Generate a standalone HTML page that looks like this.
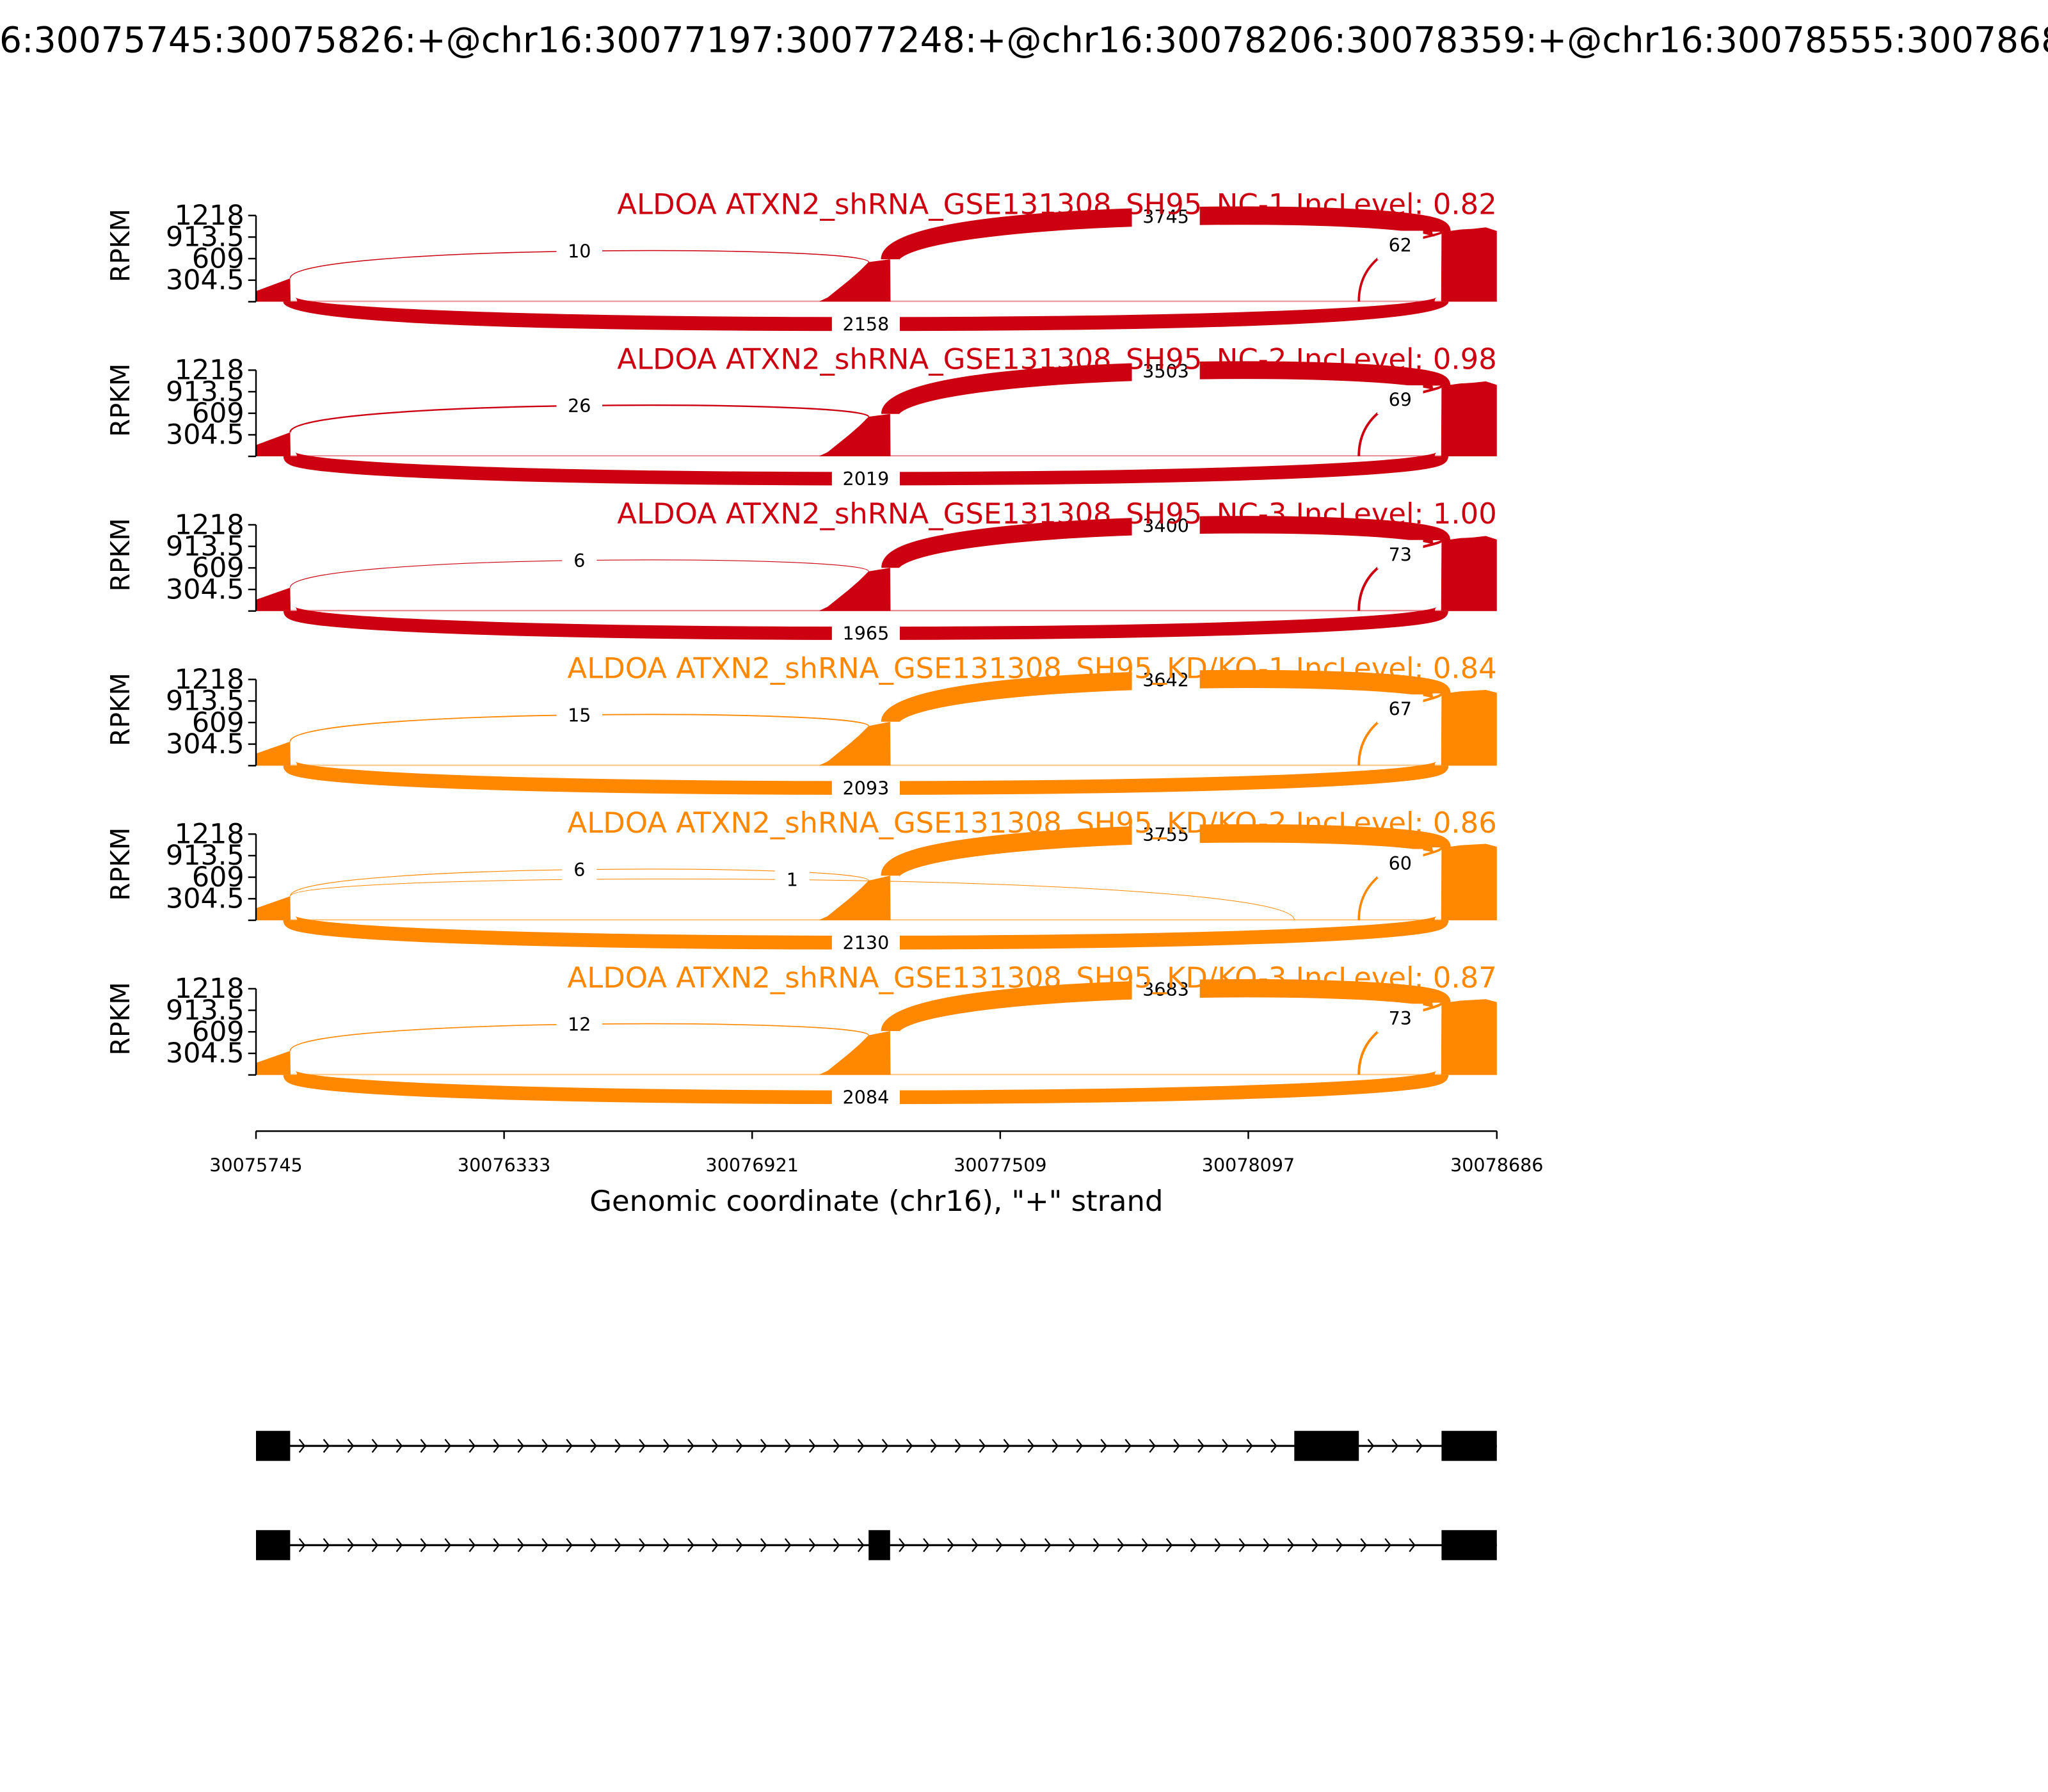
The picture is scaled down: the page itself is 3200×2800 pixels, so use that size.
<!DOCTYPE html>
<html><head><meta charset="utf-8"><style>
html,body{margin:0;padding:0;background:#fff;}
svg{display:block;font-family:"DejaVu Sans","Liberation Sans",sans-serif;}
</style></head><body>
<svg id="chart" width="3200" height="2800" viewBox="0 0 1568 1372" xmlns="http://www.w3.org/2000/svg">
<text x="784" y="40" font-size="27" text-anchor="middle">chr16:30075745:30075826:+@chr16:30077197:30077248:+@chr16:30078206:30078359:+@chr16:30078555:30078686:+</text>
<g id="panels"></g>
<g id="xaxis"></g>
<g id="genes"></g>
</svg>
<script>
// ---- data ----
const sampleNames = ["ALDOA ATXN2_shRNA_GSE131308_SH95_NC-1 IncLevel: 0.82","ALDOA ATXN2_shRNA_GSE131308_SH95_NC-2 IncLevel: 0.98","ALDOA ATXN2_shRNA_GSE131308_SH95_NC-3 IncLevel: 1.00","ALDOA ATXN2_shRNA_GSE131308_SH95_KD/KO-1 IncLevel: 0.84","ALDOA ATXN2_shRNA_GSE131308_SH95_KD/KO-2 IncLevel: 0.86","ALDOA ATXN2_shRNA_GSE131308_SH95_KD/KO-3 IncLevel: 0.87"];
const sampleGroup = [0,0,0,1,1,1];
const yTicks = [0,304.5,609,913.5,1218];
const yTickLabels = ["","304.5","609","913.5","1218"];
const xTicks = [30075745,30076333,30076921,30077509,30078097,30078686];
const covPos = [30075745,30075826,30075827,30077080,30077100,30077125,30077150,30077175,30077197,30077248,30077249,30078554,30078555,30078575,30078600,30078630,30078660,30078686];
const covP1 = [150,330,4,4,60,180,300,430,560,600,4,4,990,1000,1020,1030,1050,1000];
const covP2 = [160,340,4,4,60,180,300,430,560,600,4,4,1000,1010,1030,1040,1060,1010];
const covP3 = [160,330,4,4,60,180,300,430,560,610,4,4,1000,1010,1030,1040,1060,1010];
const covP4 = [170,340,4,4,60,180,300,430,560,620,4,4,1020,1030,1050,1060,1070,1030];
const covP5 = [170,340,4,4,60,180,300,430,560,630,4,4,1030,1040,1060,1070,1080,1040];
const covP6 = [170,340,4,4,60,180,300,430,560,620,4,4,1020,1030,1050,1060,1070,1030];
const coverages = [covP1,covP2,covP3,covP4,covP5,covP6];
const juncStart = [30075826,30075826,30077248,30078359,30075826];
const juncEnd = [30077197,30078555,30078555,30078555,30078206];
const juncAbove = [true,false,true,true,true];
const juncCtrl = [805,-420,1340,900,708];
const countsP1 = [10,2158,3745,62,0];
const countsP2 = [26,2019,3503,69,0];
const countsP3 = [6,1965,3400,73,0];
const countsP4 = [15,2093,3642,67,0];
const countsP5 = [6,2130,3755,60,1];
const countsP6 = [12,2084,3683,73,0];
const counts = [countsP1,countsP2,countsP3,countsP4,countsP5,countsP6];
const tx1Exons = [[30075745,30075826],[30078206,30078359],[30078555,30078686]];
const tx2Exons = [[30075745,30075826],[30077197,30077248],[30078555,30078686]];

// ---- layout ----
const NS="http://www.w3.org/2000/svg";
const X0=196,X1=1146,G0=30075745,G1=30078686,YMAX=1218,PH=66;
const colors=["#cc0011","#ff8800"];
const xs=g=>X0+(g-G0)*(X1-X0)/(G1-G0);
function mk(tag,attrs,parent){const e=document.createElementNS(NS,tag);for(const k in attrs)e.setAttribute(k,attrs[k]);parent.appendChild(e);return e;}
function covAt(cov,g){for(let i=0;i<covPos.length-1;i++){if(g>=covPos[i]&&g<=covPos[i+1]){const t=(g-covPos[i])/((covPos[i+1]-covPos[i])||1);return cov[i]+(cov[i+1]-cov[i])*t;}}return 0;}
const panels=document.getElementById('panels');
sampleNames.forEach((name,pi)=>{
  const top=165+118.4*pi,bot=top+PH;
  const ys=v=>bot-PH*v/YMAX;
  const col=colors[sampleGroup[pi]];
  const g=mk('g',{},panels);
  
  
  const cov=coverages[pi];
  let d='M'+xs(covPos[0])+','+bot;
  covPos.forEach((p,i)=>{d+=' L'+xs(p).toFixed(2)+','+ys(cov[i]).toFixed(2);});
  d+=' L'+xs(covPos[covPos.length-1])+','+bot+' Z';
  const cp=mk('path',{d:d,fill:col,stroke:'none'},g);
  
  
  const cnt=counts[pi];
  const labels=[];
  juncStart.forEach((s,ji)=>{
    const c=cnt[ji]; if(!c) return;
    const xa=xs(s),xb=xs(juncEnd[ji]);
    let ya,yb;
    if(juncAbove[ji]){ya=ys(covAt(cov,s));yb=ys(covAt(cov,juncEnd[ji]));}
    else{ya=bot;yb=bot;}
    const yc=ys(juncCtrl[ji]);
    const w=Math.max(0.5,0.23*Math.sqrt(c));
    const jp=mk('path',{d:`M${xa},${ya} C${xa},${yc} ${xb},${yc} ${xb},${yb}`,fill:'none',stroke:col,'stroke-width':w},g);
    
    
    labels.push([(xa+xb)/2,0.125*ya+0.75*yc+0.125*yb,c]);
  });
  labels.forEach(l=>{
    const s=String(l[2]);const bw=s.length*8.5+18;
    const r=mk('rect',{x:l[0]-bw/2,y:l[1]-11,width:bw,height:22,fill:'#fff'},g);
    
    
    const t=mk('text',{x:l[0],y:l[1]+5,'font-size':14,'text-anchor':'middle',fill:'#000'},g);
    
    
    t.textContent=s;
  });
  mk('line',{x1:X0,x2:X1,y1:bot-0.5,y2:bot-0.5,stroke:col,'stroke-opacity':0.3,'stroke-width':1},g);
  const ax=mk('g',{},g);
  
  
  mk('line',{x1:X0,x2:X0,y1:top,y2:bot,stroke:'#000','stroke-width':1.2},ax);
  yTicks.forEach((v,i)=>{
    mk('line',{x1:X0-6,x2:X0,y1:ys(v),y2:ys(v),stroke:'#000','stroke-width':1.2},ax);
    if(yTickLabels[i]){const t=mk('text',{x:X0-9,y:ys(v)+7,'font-size':21,'text-anchor':'end'},ax);
      
      
      t.textContent=yTickLabels[i];}
  });
  const yl=mk('text',{x:0,y:0,'font-size':20,'text-anchor':'middle',transform:`translate(99,${top+PH/2-10}) rotate(-90)`},ax);
  
  
  yl.textContent='RPKM';
  const tt=mk('text',{x:X1,y:top-1,'font-size':22,'text-anchor':'end',fill:col},g);
  
  
  tt.textContent=name;
});
const xa=document.getElementById('xaxis');
mk('line',{x1:X0,x2:X1,y1:866,y2:866,stroke:'#000','stroke-width':1.2},xa);
xTicks.forEach(v=>{
  mk('line',{x1:xs(v),x2:xs(v),y1:866,y2:872,stroke:'#000','stroke-width':1.2},xa);
  const t=mk('text',{x:xs(v),y:897,'font-size':14,'text-anchor':'middle'},xa);
  
  
  t.textContent=v;
});
const xt=mk('text',{x:671,y:927,'font-size':22,'text-anchor':'middle'},xa);


xt.textContent='Genomic coordinate (chr16), "+" strand';
const gm=document.getElementById('genes');
[[tx1Exons,1107],[tx2Exons,1183]].forEach(([ex,y],ti)=>{
  const g=mk('g',{},gm);
  
  
  mk('line',{x1:X0,x2:X1,y1:y,y2:y,stroke:'#000','stroke-width':1.5},g);
  for(let i=0;i<ex.length-1;i++){
    const a=xs(ex[i][1]),b=xs(ex[i+1][0]);
    for(let x=a+9;x<b-4;x+=18.6){mk('path',{d:`M${x-2},${y-5} L${x+2},${y} L${x-2},${y+5}`,fill:'none',stroke:'#000','stroke-width':1.1},g);}
  }
  ex.forEach(e=>{const r=mk('rect',{x:xs(e[0]),y:y-11.5,width:xs(e[1])-xs(e[0]),height:23,fill:'#000'},g);
    
    });
});
</script>
</body></html>
